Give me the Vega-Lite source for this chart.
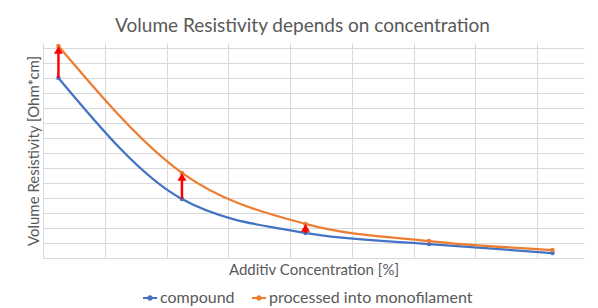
{
  "$schema": "https://vega.github.io/schema/vega-lite/v6.json",
  "width": 541,
  "height": 215,
  "autosize": {"type": "none"},
  "padding": {"left": 43, "top": 43, "right": 14, "bottom": 50},
  "background": "white",
  "title": {
    "text": "Volume Resistivity depends on concentration",
    "fontSize": 19,
    "font": "Lato",
    "fontWeight": "normal",
    "color": "#595959",
    "anchor": "middle",
    "baseline": "alphabetic",
    "offset": 11,
    "dx": -11,
    "dy": 20
  },
  "config": {
    "view": {"stroke": null},
    "font": "Lato",
    "axis": {
      "grid": true,
      "gridColor": "#D9D9D9",
      "gridWidth": 1,
      "labels": false,
      "ticks": false,
      "domain": false,
      "titleFont": "Lato",
      "titleFontSize": 15,
      "titleFontWeight": "normal",
      "titleColor": "#595959"
    }
  },
  "datasets": {
    "series": [
      {"conc": 0.25, "resistivity": 12.0, "series": "compound"},
      {"conc": 2.25, "resistivity": 3.93, "series": "compound"},
      {"conc": 4.25, "resistivity": 1.67, "series": "compound"},
      {"conc": 6.25, "resistivity": 0.93, "series": "compound"},
      {"conc": 8.25, "resistivity": 0.33, "series": "compound"},
      {"conc": 0.25, "resistivity": 14.13, "series": "processed into monofilament"},
      {"conc": 2.25, "resistivity": 5.67, "series": "processed into monofilament"},
      {"conc": 4.25, "resistivity": 2.27, "series": "processed into monofilament"},
      {"conc": 6.25, "resistivity": 1.13, "series": "processed into monofilament"},
      {"conc": 8.25, "resistivity": 0.53, "series": "processed into monofilament"}
    ],
    "arrows": [
      {"conc": 0.25, "from": 12.0, "to": 14.13},
      {"conc": 2.25, "from": 3.93, "to": 5.67},
      {"conc": 4.25, "from": 1.67, "to": 2.27}
    ]
  },
  "layer": [
    {
      "data": {"name": "series"},
      "mark": {"type": "line", "interpolate": "monotone", "strokeWidth": 2.25},
      "encoding": {
        "x": {
          "field": "conc", "type": "quantitative",
          "scale": {"domain": [0, 8.76], "nice": false, "zero": false},
          "axis": {"title": "Additiv Concentration [%]", "values": [0, 1, 2, 3, 4, 5, 6, 7, 8], "titlePadding": 4}
        },
        "y": {
          "field": "resistivity", "type": "quantitative",
          "scale": {"domain": [0, 14.33], "nice": false},
          "axis": {"title": "Volume Resistivity [Ohm*cm]", "values": [0, 1, 2, 3, 4, 5, 6, 7, 8, 9, 10, 11, 12, 13, 14], "titlePadding": 2}
        },
        "color": {
          "field": "series", "type": "nominal",
          "scale": {"domain": ["compound", "processed into monofilament"], "range": ["#4472C4", "#ED7D31"]},
          "legend": {
            "title": null,
            "orient": "none",
            "legendX": 99,
            "legendY": 247,
            "direction": "horizontal",
            "labelFont": "Lato",
            "labelFontSize": 16,
            "labelColor": "#595959",
            "labelLimit": 0,
            "symbolType": "M-1,0H1M-0.25,0A0.25,0.25,0,1,1,0.25,0A0.25,0.25,0,1,1,-0.25,0Z",
            "symbolSize": 196,
            "symbolStrokeWidth": 2,
            "labelOffset": 2,
            "columnPadding": 13,
            "encode": {
              "symbols": {"update": {"fill": {"scale": "color", "field": "value"}, "stroke": {"scale": "color", "field": "value"}}}
            }
          }
        }
      }
    },
    {
      "data": {"name": "series"},
      "mark": {"type": "point", "filled": true, "size": 20, "opacity": 1},
      "encoding": {
        "x": {"field": "conc", "type": "quantitative", "axis": {"title": "Additiv Concentration [%]", "values": [0, 1, 2, 3, 4, 5, 6, 7, 8], "titlePadding": 4}},
        "y": {"field": "resistivity", "type": "quantitative", "axis": {"title": "Volume Resistivity [Ohm*cm]", "values": [0, 1, 2, 3, 4, 5, 6, 7, 8, 9, 10, 11, 12, 13, 14], "titlePadding": 2}},
        "color": {"field": "series", "type": "nominal", "legend": null}
      }
    },
    {
      "data": {"name": "arrows"},
      "mark": {"type": "rule", "color": "#FF0000", "strokeWidth": 2.5, "y2Offset": 4},
      "encoding": {
        "x": {"field": "conc", "type": "quantitative", "axis": {"title": "Additiv Concentration [%]", "values": [0, 1, 2, 3, 4, 5, 6, 7, 8], "titlePadding": 4}},
        "y": {"field": "from", "type": "quantitative", "axis": {"title": "Volume Resistivity [Ohm*cm]", "values": [0, 1, 2, 3, 4, 5, 6, 7, 8, 9, 10, 11, 12, 13, 14], "titlePadding": 2}},
        "y2": {"field": "to"}
      }
    },
    {
      "data": {"name": "arrows"},
      "mark": {"type": "point", "shape": "triangle-up", "filled": true, "color": "#FF0000", "size": 80, "yOffset": 4, "opacity": 1},
      "encoding": {
        "x": {"field": "conc", "type": "quantitative", "axis": {"title": "Additiv Concentration [%]", "values": [0, 1, 2, 3, 4, 5, 6, 7, 8], "titlePadding": 4}},
        "y": {"field": "to", "type": "quantitative", "axis": {"title": "Volume Resistivity [Ohm*cm]", "values": [0, 1, 2, 3, 4, 5, 6, 7, 8, 9, 10, 11, 12, 13, 14], "titlePadding": 2}}
      }
    }
  ]
}
